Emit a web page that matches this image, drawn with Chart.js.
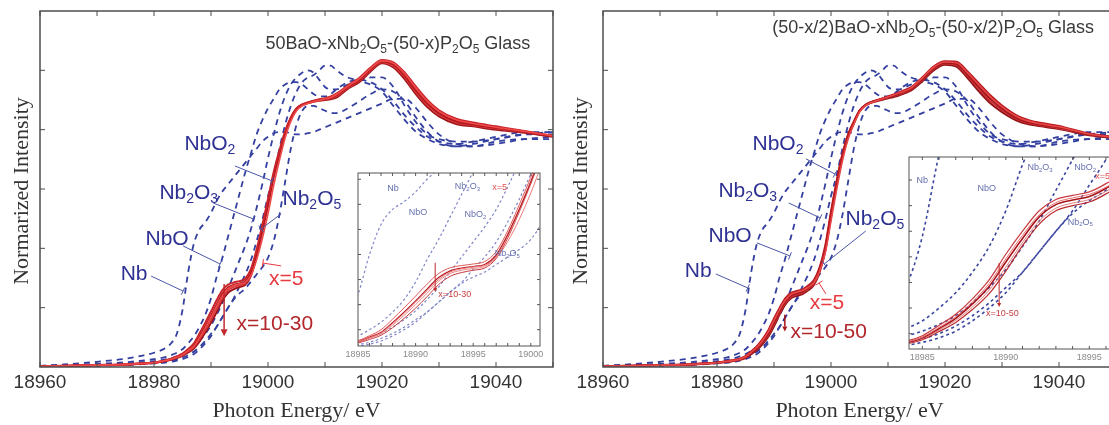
<!DOCTYPE html>
<html>
<head>
<meta charset="utf-8">
<script src="https://cdn.jsdelivr.net/npm/chart.js@4.4.1/dist/chart.umd.min.js"></script>
<style>
  html, body { margin: 0; padding: 0; background: #fff; overflow: hidden; width: 1109px; height: 425px; position: relative; }
  canvas { position: absolute; }
</style>
</head>
<body>
<canvas id="mainL" width="560" height="425" style="left:0;top:0"></canvas>
<canvas id="mainR" width="565" height="425" style="left:555px;top:0"></canvas>
<canvas id="insetL" width="215" height="210" style="left:340px;top:160px"></canvas>
<canvas id="insetR" width="230" height="230" style="left:890px;top:140px"></canvas>
<script>
// photon energy grid (eV)
const X = [18960, 18965, 18970, 18975, 18978, 18980, 18982, 18983, 18984, 18985, 18986, 18987, 18988, 18989, 18990,
  18991, 18992, 18993, 18994, 18995, 18996, 18997, 18998, 18999, 19000, 19001, 19002, 19003, 19004, 19005, 19006,
  19007, 19008, 19009, 19010, 19011, 19012, 19014, 19016, 19018, 19020, 19022, 19024, 19026, 19028, 19030, 19033,
  19036, 19040, 19045, 19050];

// reference compounds (dashed, same in both panels)
const Nb = [0.005,0.012,0.022,0.035,0.048,0.06,0.08,0.1,0.14,0.24,0.4,0.52,0.58,0.61,0.65,0.7,0.74,0.77,0.8,0.83,0.86,0.89,0.92,0.95,0.97,0.985,0.99,0.99,0.985,0.98,0.98,0.985,0.99,1.0,1.01,1.02,1.03,1.05,1.07,1.09,1.11,1.13,1.13,1.09,1.03,0.98,0.94,0.93,0.94,0.96,0.97];
const NbO = [0.004,0.008,0.013,0.02,0.027,0.033,0.042,0.05,0.06,0.075,0.1,0.13,0.17,0.22,0.29,0.38,0.46,0.55,0.64,0.73,0.82,0.9,0.98,1.04,1.09,1.13,1.17,1.19,1.2,1.2,1.19,1.17,1.15,1.14,1.14,1.15,1.17,1.2,1.21,1.2,1.17,1.12,1.06,1.01,0.97,0.95,0.94,0.95,0.97,0.99,0.99];
const Nb2O3 = [0.003,0.006,0.01,0.015,0.02,0.025,0.032,0.037,0.045,0.055,0.068,0.085,0.11,0.14,0.175,0.22,0.27,0.33,0.39,0.45,0.51,0.58,0.67,0.77,0.88,0.98,1.07,1.14,1.19,1.22,1.24,1.25,1.24,1.21,1.18,1.17,1.17,1.19,1.2,1.19,1.16,1.1,1.04,0.99,0.96,0.94,0.93,0.94,0.96,0.98,0.98];
const NbO2 = [0.002,0.004,0.007,0.011,0.015,0.018,0.023,0.027,0.032,0.04,0.05,0.065,0.085,0.11,0.14,0.17,0.21,0.25,0.29,0.34,0.39,0.45,0.53,0.62,0.72,0.81,0.92,1.02,1.1,1.16,1.2,1.22,1.23,1.25,1.27,1.27,1.25,1.22,1.21,1.22,1.22,1.18,1.1,1.03,0.98,0.96,0.95,0.95,0.96,0.98,0.99];
const Nb2O5 = [0.002,0.004,0.006,0.009,0.012,0.015,0.019,0.022,0.027,0.033,0.042,0.055,0.075,0.1,0.13,0.17,0.21,0.25,0.285,0.31,0.33,0.36,0.39,0.42,0.46,0.53,0.64,0.78,0.92,1.02,1.08,1.1,1.1,1.09,1.08,1.07,1.07,1.09,1.12,1.15,1.17,1.16,1.12,1.05,0.99,0.95,0.93,0.93,0.95,0.96,0.96];

// 50BaO-xNb2O5-(50-x)P2O5 glasses
const L_x5 = [0.003,0.005,0.008,0.011,0.015,0.018,0.027,0.033,0.041,0.051,0.068,0.087,0.124,0.165,0.21,0.256,0.3,0.33,0.343,0.35,0.357,0.386,0.452,0.54,0.645,0.765,0.87,0.965,1.035,1.08,1.1,1.11,1.118,1.124,1.13,1.136,1.148,1.183,1.214,1.258,1.29,1.28,1.235,1.174,1.118,1.077,1.042,1.026,1.01,0.993,0.974];
const L_x10 = [0.003,0.005,0.008,0.011,0.015,0.019,0.028,0.035,0.045,0.056,0.076,0.1,0.142,0.187,0.234,0.282,0.324,0.347,0.356,0.362,0.372,0.412,0.495,0.598,0.708,0.822,0.912,0.993,1.052,1.09,1.106,1.115,1.122,1.128,1.133,1.14,1.152,1.186,1.218,1.262,1.294,1.284,1.24,1.18,1.124,1.082,1.046,1.03,1.014,0.994,0.974];
const L_x15 = [0.003,0.005,0.008,0.011,0.015,0.018,0.027,0.033,0.042,0.052,0.07,0.09,0.128,0.17,0.215,0.262,0.308,0.335,0.346,0.352,0.36,0.398,0.48,0.58,0.69,0.808,0.9,0.985,1.048,1.088,1.105,1.114,1.121,1.126,1.13,1.135,1.145,1.18,1.21,1.255,1.288,1.275,1.228,1.165,1.11,1.07,1.036,1.022,1.008,0.992,0.973];
const L_x20 = [0.003,0.005,0.008,0.011,0.015,0.018,0.026,0.032,0.04,0.05,0.066,0.084,0.118,0.157,0.2,0.246,0.293,0.324,0.337,0.344,0.352,0.39,0.472,0.574,0.685,0.803,0.897,0.982,1.046,1.087,1.104,1.113,1.12,1.124,1.128,1.132,1.14,1.176,1.205,1.25,1.284,1.268,1.22,1.156,1.102,1.064,1.03,1.018,1.004,0.99,0.972];
const L_x30 = [0.003,0.005,0.007,0.01,0.014,0.017,0.025,0.03,0.038,0.047,0.061,0.078,0.108,0.145,0.186,0.232,0.28,0.313,0.328,0.337,0.346,0.384,0.466,0.57,0.682,0.8,0.895,0.98,1.044,1.086,1.103,1.112,1.118,1.122,1.125,1.128,1.135,1.172,1.2,1.245,1.28,1.262,1.212,1.148,1.094,1.056,1.024,1.014,1.0,0.987,0.97];

// (50-x/2)BaO-xNb2O5-(50-x/2)P2O5 glasses
const R_x5 = [0.003,0.005,0.008,0.011,0.015,0.018,0.024,0.028,0.033,0.043,0.062,0.083,0.112,0.148,0.196,0.242,0.282,0.306,0.315,0.322,0.336,0.356,0.402,0.482,0.615,0.748,0.868,0.96,1.022,1.074,1.1,1.113,1.122,1.13,1.138,1.146,1.155,1.175,1.217,1.263,1.285,1.282,1.238,1.187,1.137,1.096,1.05,1.028,1.012,0.983,0.967];
const R_x10 = [0.003,0.005,0.008,0.011,0.015,0.019,0.025,0.03,0.035,0.046,0.066,0.088,0.118,0.155,0.205,0.25,0.29,0.312,0.32,0.327,0.343,0.366,0.42,0.512,0.655,0.785,0.897,0.98,1.034,1.081,1.104,1.116,1.124,1.132,1.14,1.148,1.158,1.178,1.22,1.266,1.288,1.286,1.244,1.194,1.144,1.102,1.055,1.032,1.016,0.985,0.968];
const R_x20 = [0.003,0.005,0.008,0.011,0.015,0.018,0.024,0.028,0.032,0.042,0.06,0.08,0.108,0.142,0.19,0.236,0.278,0.302,0.311,0.318,0.334,0.357,0.41,0.5,0.643,0.775,0.89,0.975,1.03,1.079,1.103,1.115,1.123,1.13,1.137,1.145,1.153,1.172,1.213,1.26,1.282,1.278,1.232,1.18,1.13,1.09,1.045,1.025,1.01,0.982,0.966];
const R_x30 = [0.003,0.005,0.008,0.011,0.015,0.018,0.023,0.027,0.031,0.04,0.057,0.076,0.102,0.135,0.18,0.228,0.27,0.295,0.305,0.312,0.328,0.351,0.404,0.494,0.636,0.77,0.886,0.972,1.028,1.078,1.102,1.114,1.122,1.128,1.135,1.142,1.149,1.168,1.208,1.255,1.278,1.272,1.224,1.17,1.12,1.082,1.04,1.021,1.006,0.98,0.965];
const R_x50 = [0.003,0.005,0.007,0.01,0.014,0.017,0.022,0.026,0.03,0.038,0.054,0.072,0.097,0.128,0.172,0.222,0.264,0.29,0.3,0.307,0.323,0.346,0.4,0.49,0.632,0.766,0.883,0.97,1.026,1.077,1.101,1.113,1.12,1.126,1.132,1.138,1.145,1.164,1.203,1.25,1.274,1.266,1.216,1.16,1.11,1.074,1.034,1.017,1.003,0.978,0.964];

// ticks
const X_TICK_LABELS = [18960, 18980, 19000, 19020, 19040];
const X_TICKS = [18960, 18970, 18980, 18990, 19000, 19010, 19020, 19030, 19040, 19050];
const Y_TICKS = [0.25, 0.5, 0.75, 1.0, 1.25];
const INSET_L_LABELS = [18985, 18990, 18995, 19000];
const INSET_L_TICKS = [18986, 18987, 18988, 18989, 18990, 18991, 18992, 18993, 18994, 18995, 18996, 18997, 18998, 18999, 19000];
const INSET_L_YTICKS = [0.1, 0.2, 0.3, 0.4, 0.5, 0.6, 0.7];
const INSET_R_LABELS = [18985, 18990, 18995];
const INSET_R_TICKS = [18985, 18986, 18987, 18988, 18989, 18990, 18991, 18992, 18993, 18994, 18995, 18996];
const INSET_R_YTICKS = [0.05, 0.1, 0.15, 0.2, 0.25, 0.3, 0.35];

const SANS = '"Liberation Sans", Arial, sans-serif';
const SERIF = '"Liberation Serif", "Times New Roman", serif';
const NAVY = '#2e3192';

function series(arr) { return X.map((x, i) => ({ x: x, y: arr[i] })); }

function redSet(arr, color, w) {
  return { data: series(arr), borderColor: color, borderWidth: w, pointRadius: 0, fill: false, cubicInterpolationMode: 'monotone' };
}
function refSets(color, w, dash) {
  return [Nb, NbO, Nb2O3, NbO2, Nb2O5].map(arr => ({
    data: series(arr), borderColor: color, borderWidth: w, borderDash: dash, pointRadius: 0, fill: false, cubicInterpolationMode: 'monotone'
  }));
}

// text with "_d" subscripts, centred on x,y
function chem(ctx, str, x, y, size, color) {
  const parts = str.split(/_(\d)/);
  const big = size + 'px ' + SANS, small = Math.round(size * 0.66) + 'px ' + SANS;
  let w = 0;
  parts.forEach((p, i) => { ctx.font = i % 2 ? small : big; w += ctx.measureText(p).width; });
  let cx = x - w / 2;
  ctx.fillStyle = color; ctx.textAlign = 'left'; ctx.textBaseline = 'middle';
  parts.forEach((p, i) => {
    ctx.font = i % 2 ? small : big;
    ctx.fillText(p, cx, i % 2 ? y + size * 0.3 : y);
    cx += ctx.measureText(p).width;
  });
}

function line(ctx, x1, y1, x2, y2) { ctx.beginPath(); ctx.moveTo(x1, y1); ctx.lineTo(x2, y2); ctx.stroke(); }

function decoPlugin(cfg) {
  return {
    id: 'deco',
    beforeDatasetsDraw(chart) {
      if (!cfg.bg) return;
      const a = chart.chartArea, ctx = chart.ctx;
      ctx.save(); ctx.fillStyle = cfg.bg;
      ctx.fillRect(a.left, a.top, a.right - a.left, a.bottom - a.top);
      ctx.restore();
    },
    afterDraw(chart) {
      const ctx = chart.ctx, a = chart.chartArea, xs = chart.scales.x, ys = chart.scales.y;
      const px = v => xs.getPixelForValue(v), py = v => ys.getPixelForValue(v);
      ctx.save();
      ctx.strokeStyle = cfg.frame; ctx.lineWidth = cfg.frameW;
      ctx.strokeRect(a.left, a.top, a.right - a.left, a.bottom - a.top);
      ctx.lineWidth = 1;
      cfg.xTicks.forEach(v => { const p = px(v); line(ctx, p, a.bottom, p, a.bottom - cfg.tick); line(ctx, p, a.top, p, a.top + cfg.tick); });
      cfg.yTicks.forEach(v => { const p = py(v); line(ctx, a.left, p, a.left + cfg.tick, p); line(ctx, a.right, p, a.right - cfg.tick, p); });
      ctx.fillStyle = cfg.labelColor; ctx.textAlign = 'center'; ctx.textBaseline = 'middle';
      ctx.font = cfg.labelSize + 'px ' + SANS;
      cfg.xLabels.forEach(v => ctx.fillText(String(v), px(v), a.bottom + cfg.labelGap));
      if (cfg.xTitle) {
        ctx.fillStyle = '#333'; ctx.font = '22px ' + SERIF;
        ctx.fillText(cfg.xTitle, (a.left + a.right) / 2, a.bottom + 44);
        ctx.save();
        ctx.translate(a.left - cfg.yTitleGap, (a.top + a.bottom) / 2 + 2);
        ctx.rotate(-Math.PI / 2);
        ctx.fillText(cfg.yTitle, 0, 0);
        ctx.restore();
      }
      if (cfg.title) chem(ctx, cfg.title.t, px(cfg.title.x), py(cfg.title.y), cfg.title.size, '#3a3a3a');
      ctx.strokeStyle = cfg.leaderColor; ctx.lineWidth = cfg.leaderW;
      (cfg.leaders || []).forEach(l => {
        const x1 = px(l[0]), y1 = py(l[1]), x2 = px(l[2]), y2 = py(l[3]);
        ctx.strokeStyle = l[4] || cfg.leaderColor;
        line(ctx, x1, y1, x2, y2);
        const d = Math.hypot(x2 - x1, y2 - y1), nx = -(y2 - y1) / d * 4, ny = (x2 - x1) / d * 4;
        line(ctx, x2 - nx, y2 - ny, x2 + nx, y2 + ny);
      });
      (cfg.arrows || []).forEach(ar => {
        const x = px(ar.x), y1 = py(ar.y1), y2 = py(ar.y2);
        ctx.strokeStyle = ar.c; ctx.fillStyle = ar.c; ctx.lineWidth = ar.w;
        line(ctx, x, y1, x, y2 - ar.h);
        ctx.beginPath(); ctx.moveTo(x - ar.h / 2, y2 - ar.h); ctx.lineTo(x + ar.h / 2, y2 - ar.h); ctx.lineTo(x, y2); ctx.closePath(); ctx.fill();
      });
      (cfg.labels || []).forEach(l => chem(ctx, l.t, px(l.x), py(l.y), l.s || cfg.textSize, l.c));
      ctx.restore();
    }
  };
}

function makeChart(id, datasets, xr, yr, pad, cfg) {
  return new Chart(document.getElementById(id), {
    type: 'line',
    data: { datasets: datasets },
    options: {
      responsive: false, animation: false, events: [],
      layout: { padding: pad },
      scales: {
        x: { type: 'linear', min: xr[0], max: xr[1], display: false },
        y: { type: 'linear', min: yr[0], max: yr[1], display: false }
      },
      plugins: { legend: { display: false }, tooltip: { enabled: false } }
    },
    plugins: [decoPlugin(cfg)]
  });
}

const mainCommon = {
  frame: '#4d4d4d', frameW: 1.5, xTicks: X_TICKS, yTicks: Y_TICKS, tick: 5,
  xLabels: X_TICK_LABELS, labelSize: 19, labelColor: '#333', labelGap: 16,
  xTitle: 'Photon Energy/ eV', yTitle: 'Normarized Intensity',
  leaderColor: '#4a55a8', leaderW: 1, textSize: 21
};

// ---- left panel ----
makeChart('mainL',
  [redSet(L_x5, '#ee4a4a', 1.6), redSet(L_x10, '#c8242a', 2), redSet(L_x15, '#b3161c', 2.2),
   redSet(L_x20, '#d63a3e', 1.8), redSet(L_x30, '#a01418', 2)].concat(refSets('#3440a0', 1.8, [6, 5])),
  [18960, 19050], [0, 1.5], { left: 40, top: 11, right: 7, bottom: 58 },
  Object.assign({}, mainCommon, {
    yTitleGap: 18,
    title: { t: '50BaO-xNb_2O_5-(50-x)P_2O_5 Glass', x: 19022.8, y: 1.361, size: 18 },
    leaders: [[18994.2, 0.847, 19000.7, 0.784], [18990.4, 0.691, 18997.4, 0.624], [19002.3, 0.645, 18998.8, 0.582],
              [18985.1, 0.51, 18991.6, 0.434], [18979.5, 0.383, 18985.1, 0.32], [19002.3, 0.426, 18999.1, 0.438, '#e8393f']],
    arrows: [{ x: 18992.3, y1: 0.35, y2: 0.13, c: '#c0282d', w: 1.5, h: 7 }],
    labels: [
      { t: 'NbO_2', x: 18989.8, y: 0.94, c: NAVY }, { t: 'Nb_2O_3', x: 18986.1, y: 0.733, c: NAVY },
      { t: 'Nb_2O_5', x: 19007.7, y: 0.708, c: NAVY }, { t: 'NbO', x: 18982.3, y: 0.539, c: NAVY },
      { t: 'Nb', x: 18976.5, y: 0.392, c: NAVY }, { t: 'x=5', x: 19003.2, y: 0.371, c: '#e8393f' },
      { t: 'x=10-30', x: 19001.2, y: 0.181, c: '#b3262b' }
    ]
  }));

// ---- right panel ----
makeChart('mainR',
  [redSet(R_x5, '#e84848', 1.6), redSet(R_x10, '#b81a20', 2), redSet(R_x20, '#a3141a', 2.2),
   redSet(R_x30, '#c83236', 1.8), redSet(R_x50, '#921216', 2)].concat(refSets('#3440a0', 1.8, [6, 5])),
  [18960, 19050], [0, 1.5], { left: 48, top: 11, right: 4, bottom: 58 },
  Object.assign({}, mainCommon, {
    yTitleGap: 22,
    title: { t: '(50-x/2)BaO-xNb_2O_5-(50-x/2)P_2O_5 Glass', x: 19017.9, y: 1.429, size: 18 },
    leaders: [[18995.6, 0.877, 19000.7, 0.813], [18992.6, 0.691, 18998.1, 0.628], [19006.1, 0.573, 18998.8, 0.434],
              [18987.0, 0.523, 18992.8, 0.468], [18979.8, 0.392, 18985.4, 0.333], [18999.1, 0.308, 18997.9, 0.354, '#e8393f']],
    arrows: [{ x: 18991.9, y1: 0.22, y2: 0.15, c: '#a8141a', w: 1.5, h: 5 }],
    labels: [
      { t: 'NbO_2', x: 18990.7, y: 0.94, c: NAVY }, { t: 'Nb_2O_3', x: 18985.4, y: 0.742, c: NAVY },
      { t: 'Nb_2O_5', x: 19007.7, y: 0.624, c: NAVY }, { t: 'NbO', x: 18982.3, y: 0.552, c: NAVY },
      { t: 'Nb', x: 18976.7, y: 0.405, c: NAVY }, { t: 'x=5', x: 18999.3, y: 0.27, c: '#e8393f' },
      { t: 'x=10-50', x: 18999.6, y: 0.145, c: '#b3262b' }
    ]
  }));

// ---- insets ----
const insetCommon = { frame: '#555', frameW: 1, tick: 3, labelSize: 9, labelColor: '#8a8a8a', labelGap: 9,
  leaderColor: '#6670b0', leaderW: 0.8, textSize: 9, bg: '#ffffff' };

makeChart('insetL',
  [redSet(L_x5, '#f07a7a', 1), redSet(L_x10, '#e05a5a', 1), redSet(L_x15, '#b82026', 1.3),
   redSet(L_x20, '#ec8a8a', 1), redSet(L_x30, '#c43a3e', 1)].concat(refSets('#7f86c4', 1.2, [2.5, 2.5])),
  [18985, 19000.8], [0.035, 0.725], { left: 18, top: 13, right: 15, bottom: 24 },
  Object.assign({}, insetCommon, {
    xTicks: INSET_L_TICKS, yTicks: INSET_L_YTICKS, xLabels: INSET_L_LABELS,
    arrows: [{ x: 18991.7, y1: 0.367, y2: 0.251, c: '#c0282d', w: 1, h: 4 }],
    labels: [
      { t: 'Nb', x: 18988.04, y: 0.662, c: '#6670b0' }, { t: 'NbO', x: 18990.2, y: 0.566, c: '#6670b0' },
      { t: 'Nb_2O_3', x: 18994.5, y: 0.67, c: '#6670b0' }, { t: 'NbO_2', x: 18995.2, y: 0.558, c: '#6670b0' },
      { t: 'x=5', x: 18997.3, y: 0.666, c: '#e05050' }, { t: 'Nb_2O_5', x: 18997.96, y: 0.403, c: '#6670b0' },
      { t: 'x=10-30', x: 18993.4, y: 0.239, c: '#c84040' }
    ]
  }));

makeChart('insetR',
  [redSet(R_x5, '#e87070', 1), redSet(R_x10, '#c83a3e', 1.2), redSet(R_x20, '#a8141a', 1.6),
   redSet(R_x30, '#e08080', 1), redSet(R_x50, '#b82a2e', 1.2)].concat(refSets('#3a46a0', 1.6, [3, 3])),
  [18984.2, 18996.6], [0.02, 0.395], { left: 19, top: 17, right: 4, bottom: 21 },
  Object.assign({}, insetCommon, {
    xTicks: INSET_R_TICKS, yTicks: INSET_R_YTICKS, xLabels: INSET_R_LABELS,
    arrows: [{ x: 18989.6, y1: 0.188, y2: 0.102, c: '#c0282d', w: 1, h: 4 }],
    labels: [
      { t: 'Nb', x: 18985.0, y: 0.35, c: '#6670b0' }, { t: 'NbO', x: 18988.86, y: 0.334, c: '#6670b0' },
      { t: 'Nb_2O_3', x: 18992.05, y: 0.375, c: '#6670b0' }, { t: 'NbO_2', x: 18994.76, y: 0.375, c: '#6670b0' },
      { t: 'x=5', x: 18995.8, y: 0.356, c: '#e05050' }, { t: 'Nb_2O_5', x: 18994.46, y: 0.268, c: '#6670b0' },
      { t: 'x=10-50', x: 18989.8, y: 0.09, c: '#c84040' }
    ]
  }));
</script>
</body>
</html>
